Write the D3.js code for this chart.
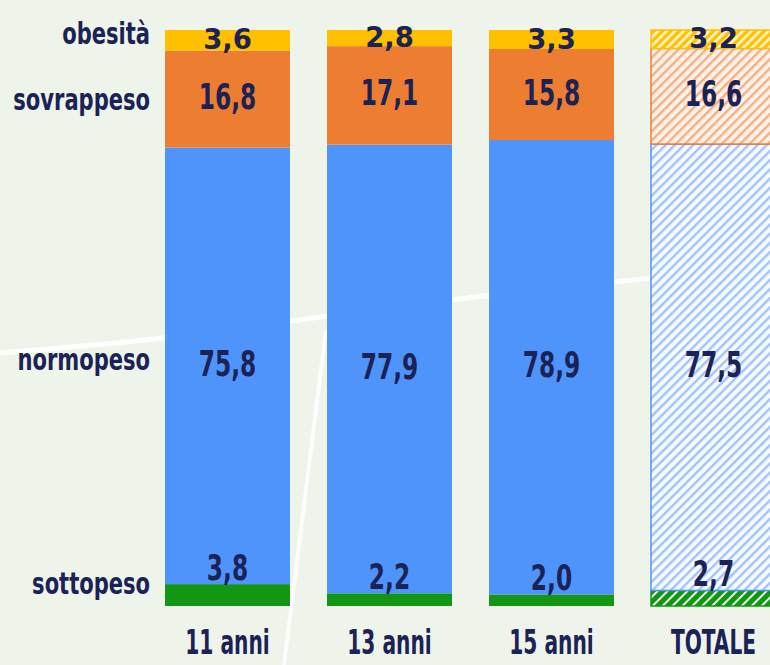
<!DOCTYPE html>
<html>
<head>
<meta charset="utf-8">
<script src="https://cdn.jsdelivr.net/npm/d3@7"></script>
<style>
  html, body { margin: 0; padding: 0; background: #eef4ea; overflow: hidden; }
  svg { display: block; }
</style>
</head>
<body>
<script>
var width = 770,
    height = 665;

// data
var groups = ['11 anni', '13 anni', '15 anni', 'TOTALE'];
var categories = ['sottopeso', 'normopeso', 'sovrappeso', 'obesità'];
var sottopeso = [3.8, 2.2, 2.0, 2.7];
var normopeso = [75.8, 77.9, 78.9, 77.5];
var sovrappeso = [16.8, 17.1, 15.8, 16.6];
var obesita = [3.6, 2.8, 3.3, 3.2];

var colors = {
  'sottopeso': '#139613',
  'normopeso': '#4f94fb',
  'sovrappeso': '#ed7d31',
  'obesità': '#ffc000'
};
var textColor = '#1b2256';
var font = "'DejaVu Sans Condensed', 'DejaVu Sans', sans-serif";

var rows = groups.map(function(g, i){
  return {
    group: g,
    'sottopeso': sottopeso[i],
    'normopeso': normopeso[i],
    'sovrappeso': sovrappeso[i],
    'obesità': obesita[i]
  };
});

var svg = d3.select('body')
  .append('svg')
  .attr('width', width)
  .attr('height', height);

var defs = svg.append('defs');

// hatch patterns for the TOTALE bar
function hatch(id, bg, stroke, size, sw){
  var p = defs.append('pattern')
    .attr('id', id)
    .attr('patternUnits', 'userSpaceOnUse')
    .attr('width', size)
    .attr('height', size)
    .attr('patternTransform', 'rotate(45)');
  p.append('rect').attr('width', size).attr('height', size).attr('fill', bg);
  p.append('rect').attr('width', sw).attr('height', size).attr('fill', stroke);
}
hatch('h-normopeso', '#f7faff', '#a2c3fb', 6.5, 2.4);
hatch('h-sovrappeso', '#fdf1e8', '#f2b184', 6.5, 2.4);
hatch('h-obesità', '#ffc000', '#fff4d0', 6, 2.6);
hatch('h-sottopeso', '#139613', '#e9f6e9', 7, 2);

// background decoration
svg.append('path')
  .attr('d', d3.line().curve(d3.curveBasis)([[0, 353], [160, 340], [310, 318], [470, 297], [632, 280], [770, 266]]))
  .attr('fill', 'none')
  .attr('stroke', '#ffffff')
  .attr('stroke-width', 5)
  .attr('opacity', 0.9);
svg.append('path')
  .attr('d', 'M284,665 L326,330')
  .attr('fill', 'none')
  .attr('stroke', '#ffffff')
  .attr('stroke-width', 4)
  .attr('opacity', 0.85);

var x = d3.scaleBand()
  .domain(groups)
  .range([165, 776])
  .paddingInner(0.2284)
  .paddingOuter(0);

var y = d3.scaleLinear()
  .domain([0, 100])
  .range([606, 30]);

var series = d3.stack().keys(categories)(rows);

function cells(s){
  return s.map(function(d){ return {key: s.key, d: d}; });
}

var layers = svg.selectAll('g.layer')
  .data(series)
  .enter().append('g')
  .attr('class', 'layer');

layers.selectAll('rect')
  .data(cells)
  .enter().append('rect')
  .attr('x', function(o){ return x(o.d.data.group); })
  .attr('width', x.bandwidth())
  .attr('y', function(o){ return y(o.d[1]); })
  .attr('height', function(o){ return y(o.d[0]) - y(o.d[1]); })
  .attr('fill', function(o){
    return o.d.data.group === 'TOTALE' ? 'url(#h-' + o.key + ')' : colors[o.key];
  })
  .attr('stroke', function(o){
    return o.d.data.group === 'TOTALE' ? colors[o.key] : 'none';
  })
  .attr('stroke-width', 1.5);

// value labels (drawn after all bars)
var labels = svg.append('g');
labels.selectAll('text')
  .data(d3.merge(series.map(cells)))
  .enter().append('text')
  .attr('transform', function(o){
    var cx = x(o.d.data.group) + x.bandwidth() / 2;
    var mid = (y(o.d[0]) + y(o.d[1])) / 2;
    if(o.key === 'sottopeso') return 'translate(' + cx + ',' + (y(o.d[1]) - 4) + ') scale(0.72,1)';
    if(o.key === 'obesità') return 'translate(' + cx + ',' + (mid + 9) + ') scale(0.85,0.78)';
    return 'translate(' + cx + ',' + (mid + 10) + ') scale(0.72,1)';
  })
  .attr('text-anchor', 'middle')
  .attr('font-family', font)
  .attr('font-weight', 'bold')
  .attr('font-size', 36)
  .attr('fill', textColor)
  .text(function(o){ return d3.format('.1f')(o.d.data[o.key]).replace('.', ','); });

// category labels on the left, aligned with the first bar
var catOffset = {'obesità': 4, 'sovrappeso': 11, 'normopeso': 4, 'sottopeso': -1};
svg.selectAll('text.cat')
  .data(series.map(function(s){ return {key: s.key, d: s[0]}; }))
  .enter().append('text')
  .attr('class', 'cat')
  .attr('transform', function(o){
    var mid = (y(o.d[0]) + y(o.d[1])) / 2;
    return 'translate(150,' + (mid + catOffset[o.key]) + ') scale(0.78,1)';
  })
  .attr('text-anchor', 'end')
  .attr('font-family', font)
  .attr('font-weight', 'bold')
  .attr('font-size', 30)
  .attr('fill', textColor)
  .text(function(o){ return o.key; });

// x axis labels
var xAxis = d3.axisBottom(x).tickSize(0).tickPadding(0);
var gx = svg.append('g')
  .attr('transform', 'translate(0,' + 630 + ')')
  .call(xAxis);
gx.select('.domain').remove();
gx.selectAll('text')
  .attr('dy', '0.74em')
  .attr('transform', 'scale(0.68,1)')
  .attr('font-family', font)
  .attr('font-weight', 'bold')
  .attr('font-size', 33)
  .attr('fill', textColor);
</script>
</body>
</html>
